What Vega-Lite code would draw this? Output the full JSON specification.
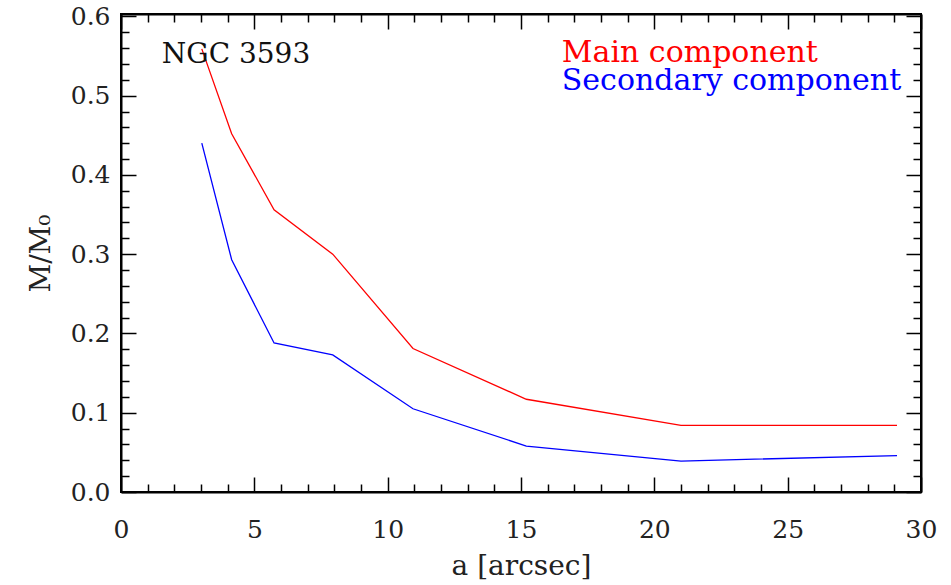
{
  "$schema": "https://vega.github.io/schema/vega-lite/v6.json",
  "width": 800,
  "height": 478,
  "autosize": "none",
  "padding": {"left": 121, "top": 14, "right": 30, "bottom": 93},
  "background": "white",
  "config": {
    "font": "DejaVu Serif",
    "view": {"stroke": "black", "strokeWidth": 2},
    "axis": {
      "domainColor": "black",
      "domainWidth": 2,
      "tickColor": "black",
      "tickWidth": 1.5,
      "labelColor": "#222",
      "titleColor": "#222",
      "labelFont": "DejaVu Serif",
      "titleFont": "DejaVu Serif",
      "labelFontSize": 25,
      "titleFontSize": 28,
      "titleFontWeight": "normal",
      "grid": false,
      "labelOverlap": false,
      "labelFlush": false,
      "labelBound": false
    }
  },
  "datasets": {
    "curves": [
      {"a": 3.03, "m": 0.559, "component": "Main"},
      {"a": 4.15, "m": 0.452, "component": "Main"},
      {"a": 5.74, "m": 0.356, "component": "Main"},
      {"a": 7.94, "m": 0.300, "component": "Main"},
      {"a": 10.95, "m": 0.181, "component": "Main"},
      {"a": 15.2, "m": 0.117, "component": "Main"},
      {"a": 21.0, "m": 0.084, "component": "Main"},
      {"a": 29.1, "m": 0.084, "component": "Main"},
      {"a": 3.03, "m": 0.440, "component": "Secondary"},
      {"a": 4.15, "m": 0.293, "component": "Secondary"},
      {"a": 5.74, "m": 0.188, "component": "Secondary"},
      {"a": 7.94, "m": 0.173, "component": "Secondary"},
      {"a": 10.95, "m": 0.105, "component": "Secondary"},
      {"a": 15.2, "m": 0.058, "component": "Secondary"},
      {"a": 21.0, "m": 0.039, "component": "Secondary"},
      {"a": 29.1, "m": 0.046, "component": "Secondary"}
    ],
    "labels": [
      {"label": "NGC 3593", "kind": "name"},
      {"label": "Main component", "kind": "Main"},
      {"label": "Secondary component", "kind": "Secondary"}
    ]
  },
  "resolve": {"axis": {"x": "independent", "y": "independent"}},
  "layer": [
    {
      "data": {"name": "curves"},
      "transform": [{"filter": "datum.component === 'Main'"}],
      "mark": {"type": "line", "color": "#ff0000", "strokeWidth": 1.3},
      "encoding": {
        "x": {
          "field": "a", "type": "quantitative",
          "scale": {"domain": [0, 30], "nice": false, "zero": false},
          "axis": {
            "orient": "bottom",
            "title": "a [arcsec]",
            "values": [0, 5, 10, 15, 20, 25, 30],
            "format": "d",
            "tickSize": -15,
            "labelPadding": 40,
            "titlePadding": 10
          }
        },
        "y": {
          "field": "m", "type": "quantitative",
          "scale": {"domain": [0, 0.603], "nice": false, "zero": false},
          "axis": {
            "orient": "left",
            "title": "M/M₀",
            "values": [0, 0.1, 0.2, 0.3, 0.4, 0.5, 0.6],
            "format": ".1f",
            "tickSize": -15,
            "labelPadding": 26,
            "titlePadding": 15
          }
        }
      }
    },
    {
      "data": {"name": "curves"},
      "transform": [{"filter": "datum.component === 'Secondary'"}],
      "mark": {"type": "line", "color": "#0000ff", "strokeWidth": 1.3},
      "encoding": {
        "x": {
          "field": "a", "type": "quantitative",
          "scale": {"domain": [0, 30], "nice": false, "zero": false},
          "axis": {
            "orient": "bottom",
            "title": null,
            "labels": false,
            "domain": false,
            "values": [1,2,3,4,6,7,8,9,11,12,13,14,16,17,18,19,21,22,23,24,26,27,28,29],
            "tickSize": -8
          }
        },
        "y": {
          "field": "m", "type": "quantitative",
          "scale": {"domain": [0, 0.603], "nice": false, "zero": false},
          "axis": {
            "orient": "left",
            "title": null,
            "labels": false,
            "domain": false,
            "values": [0.02,0.04,0.06,0.08,0.12,0.14,0.16,0.18,0.22,0.24,0.26,0.28,0.32,0.34,0.36,0.38,0.42,0.44,0.46,0.48,0.52,0.54,0.56,0.58],
            "tickSize": -8
          }
        }
      }
    },
    {
      "data": {"name": "labels"},
      "transform": [{"filter": "datum.kind === 'name'"}],
      "mark": {"type": "text", "align": "left", "baseline": "alphabetic", "fontSize": 28, "color": "#111", "font": "DejaVu Serif"},
      "encoding": {
        "text": {"field": "label"},
        "x": {"datum": 1.53, "type": "quantitative",
          "axis": {"orient": "top", "title": null, "labels": false, "values": [0, 5, 10, 15, 20, 25, 30], "tickSize": -15}},
        "y": {"datum": 0.541, "type": "quantitative",
          "axis": {"orient": "right", "title": null, "labels": false, "values": [0, 0.1, 0.2, 0.3, 0.4, 0.5, 0.6], "tickSize": -15}}
      }
    },
    {
      "data": {"name": "labels"},
      "transform": [{"filter": "datum.kind === 'Main'"}],
      "mark": {"type": "text", "align": "left", "baseline": "alphabetic", "fontSize": 30, "color": "#ff0000", "font": "DejaVu Serif"},
      "encoding": {
        "text": {"field": "label"},
        "x": {"datum": 16.53, "type": "quantitative",
          "axis": {"orient": "top", "title": null, "labels": false, "domain": false, "values": [1,2,3,4,6,7,8,9,11,12,13,14,16,17,18,19,21,22,23,24,26,27,28,29], "tickSize": -8}},
        "y": {"datum": 0.543, "type": "quantitative",
          "axis": {"orient": "right", "title": null, "labels": false, "domain": false, "values": [0.02,0.04,0.06,0.08,0.12,0.14,0.16,0.18,0.22,0.24,0.26,0.28,0.32,0.34,0.36,0.38,0.42,0.44,0.46,0.48,0.52,0.54,0.56,0.58], "tickSize": -8}}
      }
    },
    {
      "data": {"name": "labels"},
      "transform": [{"filter": "datum.kind === 'Secondary'"}],
      "mark": {"type": "text", "align": "left", "baseline": "alphabetic", "fontSize": 30, "color": "#0000ff", "font": "DejaVu Serif"},
      "encoding": {"text": {"field": "label"}, "x": {"datum": 16.53, "type": "quantitative", "axis": null}, "y": {"datum": 0.507, "type": "quantitative", "axis": null}}
    }
  ]
}
